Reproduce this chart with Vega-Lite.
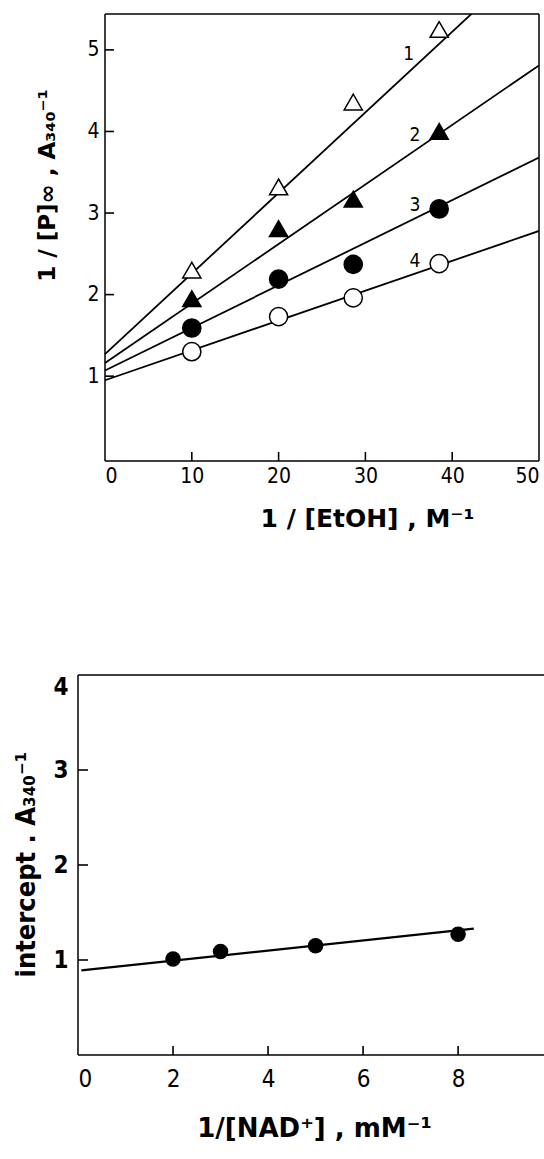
{
  "$schema": "https://vega.github.io/schema/vega-lite/v6.json",
  "background": "white",
  "autosize": {"type": "pad"},
  "padding": {"left": 12, "top": 13, "right": 0, "bottom": 0},
  "spacing": 143,
  "config": {
    "font": "Liberation Sans Narrow, DejaVu Sans Condensed, DejaVu Sans, sans-serif",
    "view": {"stroke": null},
    "axis": {
      "grid": false,
      "domain": false,
      "ticks": true,
      "tickOpacity": 0,
      "labelColor": "black",
      "titleColor": "black",
      "labelFont": "Liberation Sans Narrow, DejaVu Sans Condensed, DejaVu Sans, sans-serif",
      "titleFont": "DejaVu Sans, sans-serif"
    }
  },
  "datasets": {
    "fits1": [
      {"series": "1", "x": 0, "y": 1.27}, {"series": "1", "x": 50, "y": 6.21},
      {"series": "2", "x": 0, "y": 1.16}, {"series": "2", "x": 50, "y": 4.81},
      {"series": "3", "x": 0, "y": 1.07}, {"series": "3", "x": 50, "y": 3.68},
      {"series": "4", "x": 0, "y": 0.95}, {"series": "4", "x": 50, "y": 2.78}
    ],
    "pts1": [
      {"series": "1", "x": 10, "y": 2.3}, {"series": "1", "x": 20, "y": 3.32}, {"series": "1", "x": 28.6, "y": 4.36}, {"series": "1", "x": 38.5, "y": 5.25},
      {"series": "2", "x": 10, "y": 1.95}, {"series": "2", "x": 20, "y": 2.81}, {"series": "2", "x": 28.6, "y": 3.17}, {"series": "2", "x": 38.5, "y": 4.0},
      {"series": "3", "x": 10, "y": 1.59}, {"series": "3", "x": 20, "y": 2.19}, {"series": "3", "x": 28.6, "y": 2.37}, {"series": "3", "x": 38.5, "y": 3.05},
      {"series": "4", "x": 10, "y": 1.3}, {"series": "4", "x": 20, "y": 1.73}, {"series": "4", "x": 28.6, "y": 1.96}, {"series": "4", "x": 38.5, "y": 2.38}
    ],
    "labels1": [
      {"label": "1", "x": 35.0, "y": 4.95},
      {"label": "2", "x": 35.7, "y": 3.96},
      {"label": "3", "x": 35.7, "y": 3.1},
      {"label": "4", "x": 35.7, "y": 2.41}
    ],
    "ticks1x": [{"v": 10}, {"v": 20}, {"v": 30}, {"v": 40}],
    "ticks1y": [{"v": 1}, {"v": 2}, {"v": 3}, {"v": 4}, {"v": 5}],
    "ticks2x": [{"v": 2}, {"v": 4}, {"v": 6}, {"v": 8}],
    "ticks2y": [{"v": 1}, {"v": 2}, {"v": 3}],
    "nadfit": [{"x": 0.07, "y": 0.89}, {"x": 8.33, "y": 1.33}],
    "nadpts": [{"x": 2, "y": 1.01}, {"x": 3, "y": 1.09}, {"x": 5, "y": 1.15}, {"x": 8, "y": 1.27}],
    "border": [{"edge": "frame"}]
  },
  "vconcat": [
    {
      "width": 461,
      "height": 447,
      "layer": [
        {
          "data": {"name": "fits1"},
          "mark": {"type": "line", "color": "black", "strokeWidth": 1.8, "clip": true},
          "encoding": {
            "x": {
              "field": "x", "type": "quantitative",
              "scale": {"domain": [-3.11, 50], "nice": false, "zero": false},
              "axis": {
                "values": [0, 10, 20, 30, 40, 50],
                "format": "d",
                "offset": -8,
                "tickSize": 9,
                "labelPadding": 3,
                "labelFlush": false,
                "labelAlign": {"condition": [{"test": "datum.value == 0", "value": "left"}, {"test": "datum.value == 50", "value": "right"}], "value": "center"},
                "labelFontSize": 21,
                "title": "1 / [EtOH] ,  M⁻¹",
                "titleFontSize": 25,
                "titleFontWeight": "bold",
                "titleX": 289,
                "titleY": 65,
                "titleAlign": "center",
                "titleBaseline": "middle"
              }
            },
            "y": {
              "field": "y", "type": "quantitative",
              "scale": {"domain": [-0.04, 5.44], "nice": false, "zero": false},
              "axis": {
                "values": [1, 2, 3, 4, 5],
                "format": "d",
                "offset": -35,
                "tickSize": 9,
                "labelPadding": 5,
                "labelFontSize": 21,
                "title": "1 / [P]∞ ,  A₃₄₀⁻¹",
                "titleFontSize": 23,
                "titleFontWeight": "bold",
                "titleAngle": 270,
                "titleX": -54,
                "titleY": 171,
                "titleAlign": "center",
                "titleBaseline": "bottom"
              }
            },
            "detail": {"field": "series"}
          }
        },
        {
          "data": {"name": "border"},
          "mark": {"type": "rule", "color": "black", "strokeWidth": 1.5},
          "encoding": {"x": {"datum": 0, "type": "quantitative"}}
        },
        {
          "data": {"name": "border"},
          "mark": {"type": "rule", "color": "black", "strokeWidth": 1.5},
          "encoding": {"x": {"datum": 50, "type": "quantitative"}}
        },
        {
          "data": {"name": "border"},
          "mark": {"type": "rule", "color": "black", "strokeWidth": 1.5},
          "encoding": {
            "x": {"datum": 0, "type": "quantitative"},
            "x2": {"datum": 50},
            "y": {"datum": 5.44, "type": "quantitative"}
          }
        },
        {
          "data": {"name": "border"},
          "mark": {"type": "rule", "color": "black", "strokeWidth": 1.5},
          "encoding": {
            "x": {"datum": 0, "type": "quantitative"},
            "x2": {"datum": 50},
            "y": {"datum": -0.04, "type": "quantitative"}
          }
        },
        {
          "data": {"name": "ticks1x"},
          "mark": {"type": "rule", "color": "black", "strokeWidth": 1.6},
          "encoding": {
            "x": {"field": "v", "type": "quantitative"},
            "y": {"datum": -0.04, "type": "quantitative"},
            "y2": {"datum": 0.07}
          }
        },
        {
          "data": {"name": "ticks1y"},
          "mark": {"type": "rule", "color": "black", "strokeWidth": 1.6},
          "encoding": {
            "y": {"field": "v", "type": "quantitative"},
            "x": {"datum": 0, "type": "quantitative"},
            "x2": {"datum": 1.04}
          }
        },
        {
          "data": {"name": "pts1"},
          "mark": {"type": "point", "filled": true, "stroke": "black", "strokeWidth": 1.5, "opacity": 1},
          "encoding": {
            "x": {"field": "x", "type": "quantitative"},
            "y": {"field": "y", "type": "quantitative"},
            "shape": {
              "field": "series", "type": "nominal",
              "scale": {"domain": ["1", "2", "3", "4"], "range": ["triangle-up", "triangle-up", "circle", "circle"]},
              "legend": null
            },
            "fill": {
              "field": "series", "type": "nominal",
              "scale": {"domain": ["1", "2", "3", "4"], "range": ["white", "black", "black", "white"]},
              "legend": null
            },
            "size": {
              "field": "series", "type": "nominal",
              "scale": {"domain": ["1", "2", "3", "4"], "range": [330, 330, 200, 190]},
              "legend": null
            }
          }
        },
        {
          "data": {"name": "labels1"},
          "mark": {"type": "text", "fontSize": 19, "color": "black", "align": "center", "baseline": "middle"},
          "encoding": {
            "x": {"field": "x", "type": "quantitative"},
            "y": {"field": "y", "type": "quantitative"},
            "text": {"field": "label"}
          }
        }
      ]
    },
    {
      "width": 468,
      "height": 380,
      "layer": [
        {
          "data": {"name": "nadfit"},
          "mark": {"type": "line", "color": "black", "strokeWidth": 2.2},
          "encoding": {
            "x": {
              "field": "x", "type": "quantitative",
              "scale": {"domain": [0, 9.85], "nice": false, "zero": false},
              "axis": {
                "values": [0, 2, 4, 6, 8],
                "format": "d",
                "offset": -9,
                "tickSize": 9,
                "labelPadding": 12,
                "labelFlush": true,
                "labelFontSize": 24,
                "title": "1/[NAD⁺] , mM⁻¹",
                "titleFontSize": 26,
                "titleFontWeight": "bold",
                "titleX": 236,
                "titleY": 82,
                "titleAlign": "center",
                "titleBaseline": "middle"
              }
            },
            "y": {
              "field": "y", "type": "quantitative",
              "scale": {"domain": [0, 4], "nice": false, "zero": false},
              "axis": {
                "values": [1, 2, 3, 4],
                "format": "d",
                "offset": -10,
                "tickSize": 10,
                "labelPadding": 10,
                "labelFlush": true,
                "labelFontSize": 24,
                "labelFontWeight": "bold",
                "title": "intercept . A₃₄₀⁻¹",
                "titleFont": "Liberation Sans Narrow, DejaVu Sans Condensed, DejaVu Sans, sans-serif",
                "titleFontSize": 27,
                "titleFontWeight": "bold",
                "titleAngle": 270,
                "titleX": -48,
                "titleY": 189,
                "titleAlign": "center",
                "titleBaseline": "bottom"
              }
            }
          }
        },
        {
          "data": {"name": "ticks2x"},
          "mark": {"type": "rule", "color": "black", "strokeWidth": 1.6},
          "encoding": {
            "x": {"field": "v", "type": "quantitative"},
            "y": {"datum": 0, "type": "quantitative"},
            "y2": {"datum": 0.095}
          }
        },
        {
          "data": {"name": "ticks2y"},
          "mark": {"type": "rule", "color": "black", "strokeWidth": 1.6},
          "encoding": {
            "y": {"field": "v", "type": "quantitative"},
            "x": {"datum": 0, "type": "quantitative"},
            "x2": {"datum": 0.21}
          }
        },
        {
          "data": {"name": "nadpts"},
          "mark": {"type": "point", "filled": true, "shape": "circle", "size": 240, "color": "black", "opacity": 1},
          "encoding": {
            "x": {"field": "x", "type": "quantitative"},
            "y": {"field": "y", "type": "quantitative"}
          }
        },
        {
          "data": {"name": "border"},
          "mark": {"type": "rule", "color": "black", "strokeWidth": 1.5},
          "encoding": {"y": {"datum": 4, "type": "quantitative"}}
        },
        {
          "data": {"name": "border"},
          "mark": {"type": "rule", "color": "black", "strokeWidth": 1.5},
          "encoding": {"y": {"datum": 0, "type": "quantitative"}}
        },
        {
          "data": {"name": "border"},
          "mark": {"type": "rule", "color": "black", "strokeWidth": 1.5},
          "encoding": {"x": {"datum": 0, "type": "quantitative"}}
        }
      ]
    }
  ]
}
